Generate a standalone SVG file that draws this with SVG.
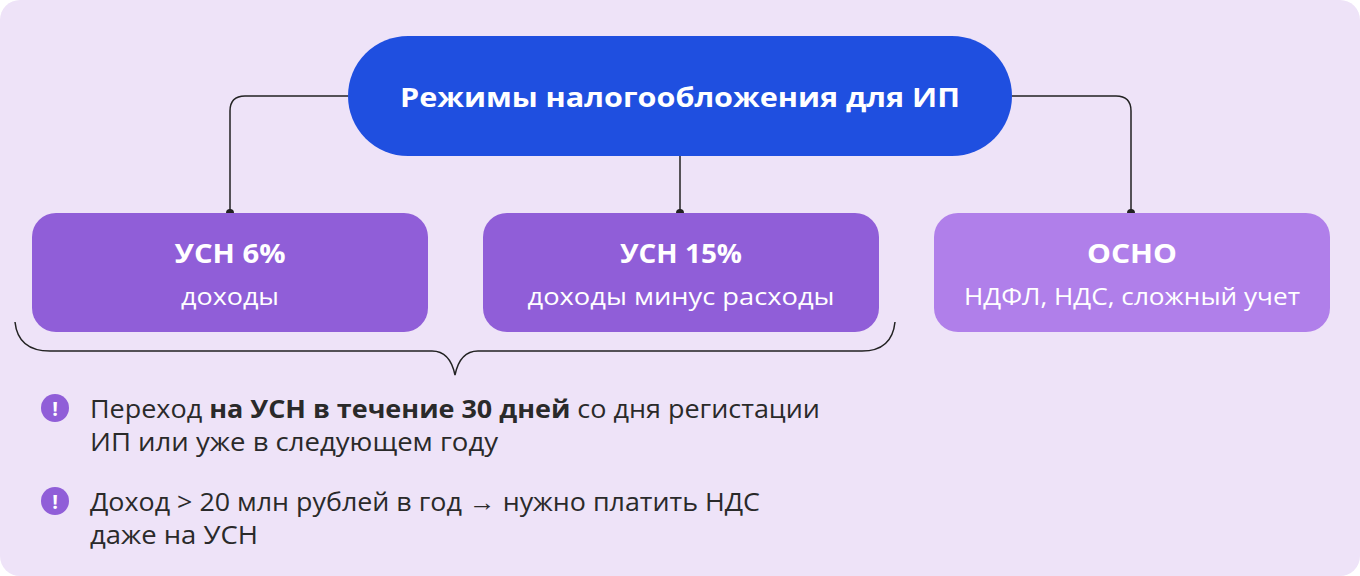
<svg xmlns="http://www.w3.org/2000/svg" width="1360" height="576" viewBox="0 0 1360 576">
<style>
text{font-family:"Open Sans","Noto Sans",sans-serif}
.t{fill:#fff;font-size:27px;font-weight:700;text-anchor:middle}
.s{fill:#fff;font-size:24px;text-anchor:middle}
.b{fill:#2a2a2a;font-size:25px}
.c{fill:none;stroke:#222;stroke-width:1.5}
</style>
<rect width="1360" height="576" fill="#fff"/>
<rect x="0" y="0" width="1360" height="576" rx="20" fill="#eee3f8"/>
<g id="connectors">
<path class="c" d="M348 96H245Q230 96 230 111V213"/>
<path class="c" d="M680 156V213"/>
<path class="c" d="M1012 96H1116Q1131 96 1131 111V213"/>
<circle cx="230" cy="213" r="4" fill="#222"/>
<circle cx="680" cy="213" r="4" fill="#222"/>
<circle cx="1131" cy="213" r="4" fill="#222"/>
<path class="c" d="M15 322Q18 351 50 351H432Q450 351 455 375Q460 351 478 351H862Q892 351 895 322"/>
</g>
<g id="root">
<rect x="348" y="36" width="664" height="120" rx="60" fill="#1f4fe0"/>
<text class="t" x="680" y="107" font-size="29" textLength="560" lengthAdjust="spacingAndGlyphs">Режимы налогообложения для ИП</text>
</g>
<g id="usn6">
<rect x="32" y="213" width="396" height="119" rx="24" fill="#905ed8"/>
<text class="t" x="230" y="263" textLength="111" lengthAdjust="spacingAndGlyphs">УСН 6%</text>
<text class="s" x="230" y="305" textLength="98" lengthAdjust="spacingAndGlyphs">доходы</text>
</g>
<g id="usn15">
<rect x="483" y="213" width="396" height="119" rx="24" fill="#905ed8"/>
<text class="t" x="681" y="263" textLength="122" lengthAdjust="spacingAndGlyphs">УСН 15%</text>
<text class="s" x="681" y="305" textLength="307" lengthAdjust="spacingAndGlyphs">доходы минус расходы</text>
</g>
<g id="osno">
<rect x="934" y="213" width="396" height="119" rx="24" fill="#b07fea"/>
<text class="t" x="1132" y="263" textLength="90" lengthAdjust="spacingAndGlyphs">ОСНО</text>
<text class="s" x="1132" y="305" textLength="336" lengthAdjust="spacingAndGlyphs">НДФЛ, НДС, сложный учет</text>
</g>
<g id="note1">
<circle cx="55" cy="408" r="14" fill="#905ed8"/>
<text x="55" y="416" fill="#fff" font-size="20" font-weight="700" text-anchor="middle">!</text>
<text class="b" x="90" y="418" textLength="730" lengthAdjust="spacingAndGlyphs">Переход <tspan font-weight="700">на УСН в течение 30 дней</tspan> со дня регистации</text>
<text class="b" x="90" y="451" textLength="408" lengthAdjust="spacingAndGlyphs">ИП или уже в следующем году</text>
</g>
<g id="note2">
<circle cx="55" cy="501" r="14" fill="#905ed8"/>
<text x="55" y="509" fill="#fff" font-size="20" font-weight="700" text-anchor="middle">!</text>
<text class="b" x="90" y="511" textLength="670" lengthAdjust="spacingAndGlyphs">Доход &gt; 20 млн рублей в год → нужно платить НДС</text>
<text class="b" x="90" y="544" textLength="168" lengthAdjust="spacingAndGlyphs">даже на УСН</text>
</g>
</svg>
